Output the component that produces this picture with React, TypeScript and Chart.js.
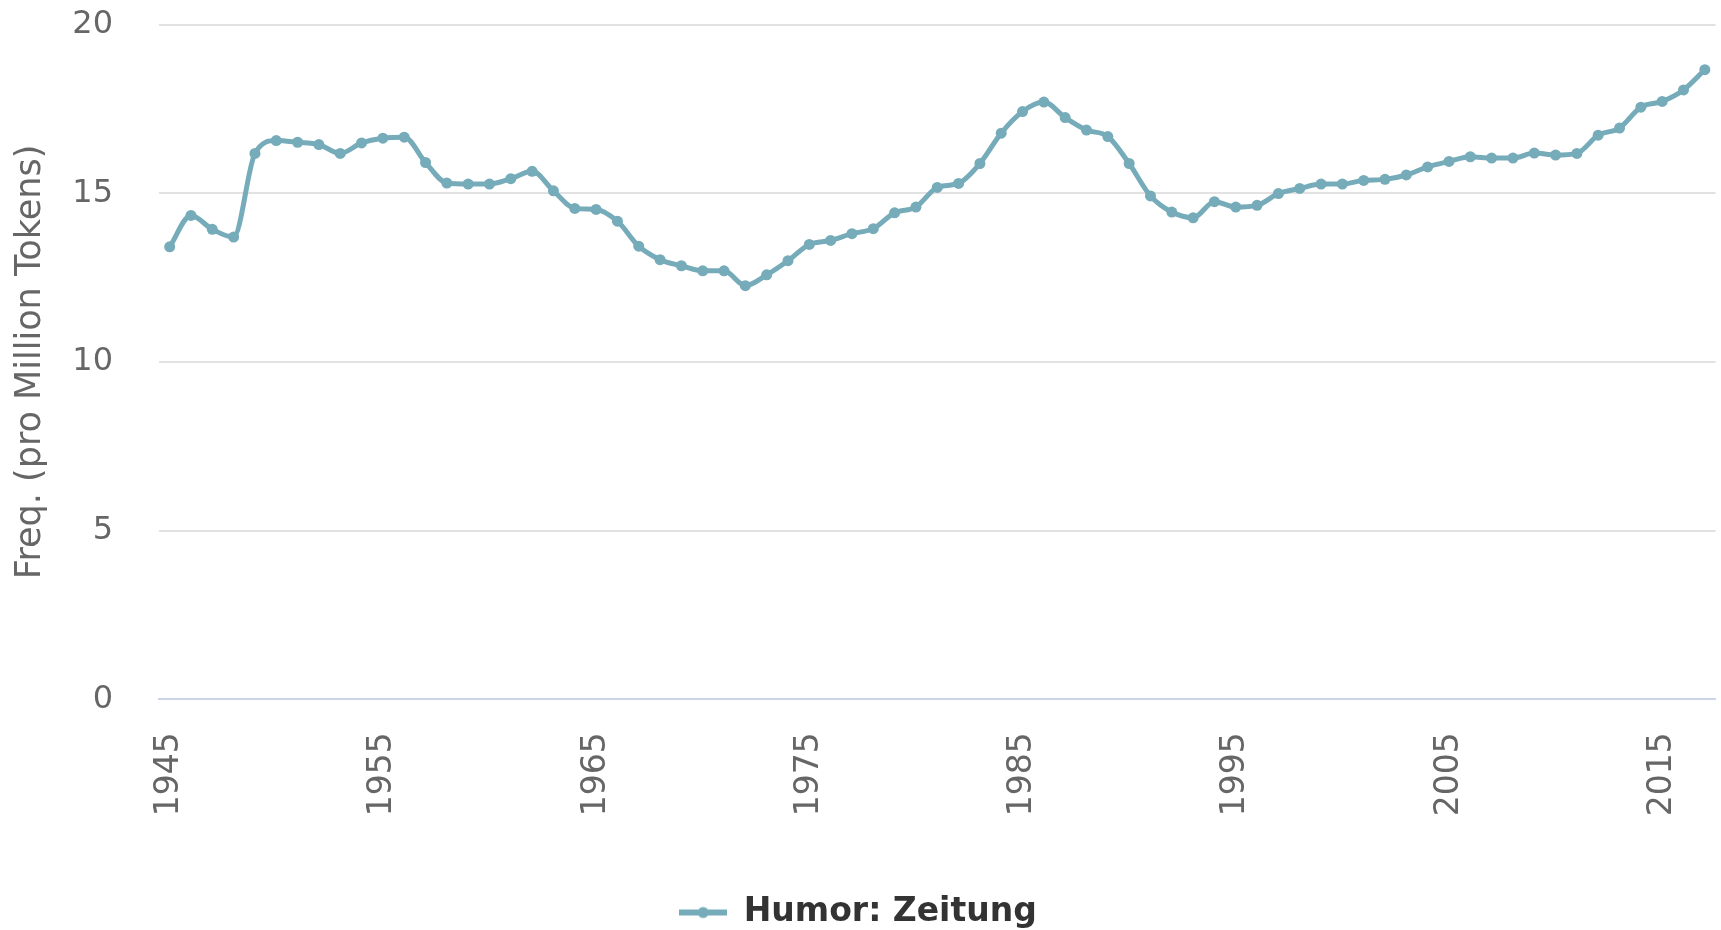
import React, { useEffect, useRef } from 'react';
import { Chart, registerables } from 'chart.js';

Chart.register(...registerables);

const years = [
  '1945', '1946', '1947', '1948', '1949', '1950', '1951', '1952', '1953', '1954',
  '1955', '1956', '1957', '1958', '1959', '1960', '1961', '1962', '1963', '1964',
  '1965', '1966', '1967', '1968', '1969', '1970', '1971', '1972', '1973', '1974',
  '1975', '1976', '1977', '1978', '1979', '1980', '1981', '1982', '1983', '1984',
  '1985', '1986', '1987', '1988', '1989', '1990', '1991', '1992', '1993', '1994',
  '1995', '1996', '1997', '1998', '1999', '2000', '2001', '2002', '2003', '2004',
  '2005', '2006', '2007', '2008', '2009', '2010', '2011', '2012', '2013', '2014',
  '2015', '2016', '2017',
];

const humorZeitung = [
  13.41, 14.34, 13.93, 13.70, 16.18, 16.56, 16.51, 16.44, 16.18, 16.49,
  16.63, 16.66, 15.91, 15.30, 15.27, 15.27, 15.43, 15.65, 15.07, 14.55,
  14.52, 14.17, 13.43, 13.03, 12.85, 12.70, 12.70, 12.26, 12.58, 13.00,
  13.48, 13.60, 13.80, 13.95, 14.42, 14.59, 15.17, 15.29, 15.88, 16.78,
  17.42, 17.70, 17.24, 16.87, 16.68, 15.88, 14.92, 14.44, 14.27, 14.75,
  14.59, 14.64, 14.99, 15.14, 15.27, 15.27, 15.38, 15.41, 15.54, 15.78,
  15.94, 16.08, 16.04, 16.04, 16.19, 16.13, 16.18, 16.72, 16.93, 17.55,
  17.72, 18.06, 18.66,
];

const xTickLabels = ['1945', '1955', '1965', '1975', '1985', '1995', '2005', '2015'];
const seriesName = 'Humor: Zeitung';
const yTitle = 'Freq. (pro Million Tokens)';
const yMin = 0;
const yMax = 20;
const yStep = 5;

const COLOR = '#76abb9';
const FONT = "'DejaVu Sans', Verdana, sans-serif";

export default function App() {
  const ref = useRef<HTMLCanvasElement>(null);

  useEffect(() => {
    if (!ref.current) return;
    const icon = document.createElement('canvas');
    icon.width = 48;
    icon.height = 14;
    const c = icon.getContext('2d')!;
    c.strokeStyle = COLOR;
    c.lineWidth = 6;
    c.beginPath();
    c.moveTo(0, 7);
    c.lineTo(48, 7);
    c.stroke();
    c.fillStyle = COLOR;
    c.beginPath();
    c.arc(24, 7, 5.5, 0, Math.PI * 2);
    c.fill();

    const chart = new Chart(ref.current, {
      type: 'line',
      data: {
        labels: years,
        datasets: [
          {
            label: seriesName,
            data: humorZeitung,
            borderColor: COLOR,
            backgroundColor: COLOR,
            borderWidth: 5,
            pointRadius: 5.5,
            pointBackgroundColor: COLOR,
            pointBorderWidth: 0,
            cubicInterpolationMode: 'monotone',
            fill: false,
          },
        ],
      },
      options: {
        animation: false,
        responsive: true,
        maintainAspectRatio: false,
        layout: { padding: { top: 24.5, right: 5, left: 0, bottom: 0 } },
        plugins: {
          tooltip: { enabled: false },
          legend: {
            position: 'bottom',
            labels: {
              usePointStyle: true,
              pointStyleWidth: 48,
              padding: 10,
              color: '#333333',
              font: { family: FONT, size: 33, weight: 'bold' },
              generateLabels: (ch: any) => {
                const items = (Chart.defaults.plugins.legend.labels as any).generateLabels(ch);
                items.forEach((it: any) => {
                  it.pointStyle = icon;
                });
                return items;
              },
            },
          },
        },
        scales: {
          x: {
            type: 'category',
            offset: true,
            grid: { display: false, drawTicks: false },
            border: { display: true, color: '#ccd6eb', width: 2 },
            ticks: {
              autoSkip: false,
              maxRotation: 90,
              minRotation: 90,
              padding: 33,
              color: '#666666',
              font: { family: FONT, size: 33 },
              callback: (_v: any, index: number) => {
                const lab = years[index];
                return xTickLabels.includes(lab) ? lab : '';
              },
            },
            afterFit: (scale: any) => {
              scale.height = 186.7;
              scale.paddingLeft = 0;
              scale.paddingRight = 0;
            },
          },
          y: {
            min: yMin,
            max: yMax,
            ticks: {
              stepSize: yStep,
              padding: 46,
              color: '#666666',
              font: { family: FONT, size: 32 },
            },
            grid: {
              drawTicks: false,
              lineWidth: 2,
              color: (ctx: any) =>
                ctx.tick && ctx.tick.value === 0 ? 'rgba(0,0,0,0)' : '#e2e2e2',
            },
            border: { display: false },
            title: {
              display: true,
              text: yTitle,
              color: '#666666',
              font: { family: FONT, size: 35 },
              padding: { top: 10, bottom: 0 },
            },
            afterFit: (scale: any) => {
              scale.width = 159;
              scale.paddingTop = 0;
              scale.paddingBottom = 0;
            },
          },
        },
      },
    } as any);

    return () => chart.destroy();
  }, []);

  return (
    <div
      style={{
        position: 'fixed',
        left: 0,
        top: 0,
        width: 1721,
        height: 930,
        overflow: 'hidden',
        background: '#ffffff',
      }}
    >
      <div style={{ position: 'relative', width: 1721, height: 939 }}>
        <canvas ref={ref} />
      </div>
    </div>
  );
}
